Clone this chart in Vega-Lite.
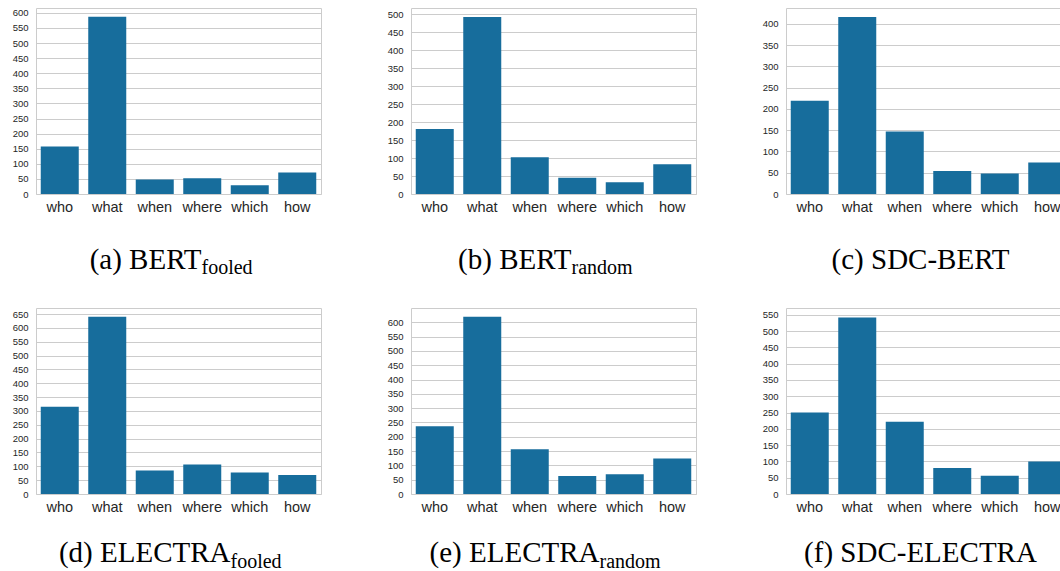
{
  "$schema": "https://vega.github.io/schema/vega-lite/v6.json",
  "background": "white",
  "padding": {"left": 11, "top": 7, "right": 0, "bottom": 0},
  "autosize": {"type": "pad"},
  "data": {"values": [
    {"panel": "a", "q": "who", "n": 157}, {"panel": "a", "q": "what", "n": 587}, {"panel": "a", "q": "when", "n": 48},
    {"panel": "a", "q": "where", "n": 52}, {"panel": "a", "q": "which", "n": 29}, {"panel": "a", "q": "how", "n": 71},
    {"panel": "b", "q": "who", "n": 181}, {"panel": "b", "q": "what", "n": 492}, {"panel": "b", "q": "when", "n": 102},
    {"panel": "b", "q": "where", "n": 45}, {"panel": "b", "q": "which", "n": 33}, {"panel": "b", "q": "how", "n": 83},
    {"panel": "c", "q": "who", "n": 219}, {"panel": "c", "q": "what", "n": 416}, {"panel": "c", "q": "when", "n": 147},
    {"panel": "c", "q": "where", "n": 54}, {"panel": "c", "q": "which", "n": 48}, {"panel": "c", "q": "how", "n": 74},
    {"panel": "d", "q": "who", "n": 315}, {"panel": "d", "q": "what", "n": 640}, {"panel": "d", "q": "when", "n": 85},
    {"panel": "d", "q": "where", "n": 107}, {"panel": "d", "q": "which", "n": 78}, {"panel": "d", "q": "how", "n": 69},
    {"panel": "e", "q": "who", "n": 237}, {"panel": "e", "q": "what", "n": 619}, {"panel": "e", "q": "when", "n": 156},
    {"panel": "e", "q": "where", "n": 63}, {"panel": "e", "q": "which", "n": 69}, {"panel": "e", "q": "how", "n": 124},
    {"panel": "f", "q": "who", "n": 250}, {"panel": "f", "q": "what", "n": 542}, {"panel": "f", "q": "when", "n": 222},
    {"panel": "f", "q": "where", "n": 80}, {"panel": "f", "q": "which", "n": 56}, {"panel": "f", "q": "how", "n": 100}
  ]},
  "columns": 3,
  "spacing": {"row": 114, "column": 90},
  "bounds": "flush",
  "concat": [
    {
      "width": 285, "height": 186,
      "transform": [{"filter": {"field": "panel", "equal": "a"}}],
      "mark": {"type": "bar"},
      "encoding": {
        "x": {"field": "q", "type": "nominal", "sort": ["who", "what", "when", "where", "which", "how"],
              "scale": {"paddingInner": 0.2, "paddingOuter": 0.1},
              "axis": {"title": "(a) BERT", "titleX": 165, "titleY": 74, "titleAlign": "right"}},
        "y": {"field": "n", "type": "quantitative", "scale": {"domain": [0, 616], "nice": false},
              "axis": {"title": "fooled", "titleX": 165, "titleY": 265,
                       "values": [0, 50, 100, 150, 200, 250, 300, 350, 400, 450, 500, 550, 600]}}
      }
    },
    {
      "width": 285, "height": 186,
      "transform": [{"filter": {"field": "panel", "equal": "b"}}],
      "mark": {"type": "bar"},
      "encoding": {
        "x": {"field": "q", "type": "nominal", "sort": ["who", "what", "when", "where", "which", "how"],
              "scale": {"paddingInner": 0.2, "paddingOuter": 0.1},
              "axis": {"title": "(b) BERT", "titleX": 160, "titleY": 74, "titleAlign": "right"}},
        "y": {"field": "n", "type": "quantitative", "scale": {"domain": [0, 517], "nice": false},
              "axis": {"title": "random", "titleX": 160, "titleY": 265,
                       "values": [0, 50, 100, 150, 200, 250, 300, 350, 400, 450, 500]}}
      }
    },
    {
      "width": 285, "height": 186,
      "transform": [{"filter": {"field": "panel", "equal": "c"}}],
      "mark": {"type": "bar"},
      "encoding": {
        "x": {"field": "q", "type": "nominal", "sort": ["who", "what", "when", "where", "which", "how"],
              "scale": {"paddingInner": 0.2, "paddingOuter": 0.1},
              "axis": {"title": "(c) SDC-BERT", "titleX": 134, "titleY": 74, "titleAlign": "center"}},
        "y": {"field": "n", "type": "quantitative", "scale": {"domain": [0, 437], "nice": false},
              "axis": {"title": null,
                       "values": [0, 50, 100, 150, 200, 250, 300, 350, 400]}}
      }
    },
    {
      "width": 285, "height": 186,
      "transform": [{"filter": {"field": "panel", "equal": "d"}}],
      "mark": {"type": "bar"},
      "encoding": {
        "x": {"field": "q", "type": "nominal", "sort": ["who", "what", "when", "where", "which", "how"],
              "scale": {"paddingInner": 0.2, "paddingOuter": 0.1},
              "axis": {"title": "(d) ELECTRA", "titleX": 194, "titleY": 67, "titleAlign": "right"}},
        "y": {"field": "n", "type": "quantitative", "scale": {"domain": [0, 672], "nice": false},
              "axis": {"title": "fooled", "titleX": 194, "titleY": 259,
                       "values": [0, 50, 100, 150, 200, 250, 300, 350, 400, 450, 500, 550, 600, 650]}}
      }
    },
    {
      "width": 285, "height": 186,
      "transform": [{"filter": {"field": "panel", "equal": "e"}}],
      "mark": {"type": "bar"},
      "encoding": {
        "x": {"field": "q", "type": "nominal", "sort": ["who", "what", "when", "where", "which", "how"],
              "scale": {"paddingInner": 0.2, "paddingOuter": 0.1},
              "axis": {"title": "(e) ELECTRA", "titleX": 188, "titleY": 67, "titleAlign": "right"}},
        "y": {"field": "n", "type": "quantitative", "scale": {"domain": [0, 650], "nice": false},
              "axis": {"title": "random", "titleX": 188, "titleY": 259,
                       "values": [0, 50, 100, 150, 200, 250, 300, 350, 400, 450, 500, 550, 600]}}
      }
    },
    {
      "width": 285, "height": 186,
      "transform": [{"filter": {"field": "panel", "equal": "f"}}],
      "mark": {"type": "bar"},
      "encoding": {
        "x": {"field": "q", "type": "nominal", "sort": ["who", "what", "when", "where", "which", "how"],
              "scale": {"paddingInner": 0.2, "paddingOuter": 0.1},
              "axis": {"title": "(f) SDC-ELECTRA", "titleX": 134, "titleY": 67, "titleAlign": "center"}},
        "y": {"field": "n", "type": "quantitative", "scale": {"domain": [0, 571], "nice": false},
              "axis": {"title": null,
                       "values": [0, 50, 100, 150, 200, 250, 300, 350, 400, 450, 500, 550]}}
      }
    }
  ],
  "config": {
    "view": {"stroke": "#cccccc", "strokeWidth": 1},
    "axis": {
      "domain": false, "ticks": false,
      "labelColor": "#262626", "labelFont": "Liberation Sans",
      "titleFont": "Liberation Serif", "titleFontWeight": "normal", "titleColor": "#000000",
      "gridColor": "#cccccc", "gridWidth": 1
    },
    "axisX": {"labelFontSize": 14.5, "labelAngle": 0, "grid": false, "labelPadding": 6,
              "titleFontSize": 29, "titleBaseline": "alphabetic"},
    "axisY": {"labelFontSize": 9.5, "labelPadding": 8, "grid": true,
              "titleFontSize": 20, "titleAngle": 0, "titleBaseline": "alphabetic", "titleAlign": "left"},
    "bar": {"color": "#176d9c"}
  }
}
